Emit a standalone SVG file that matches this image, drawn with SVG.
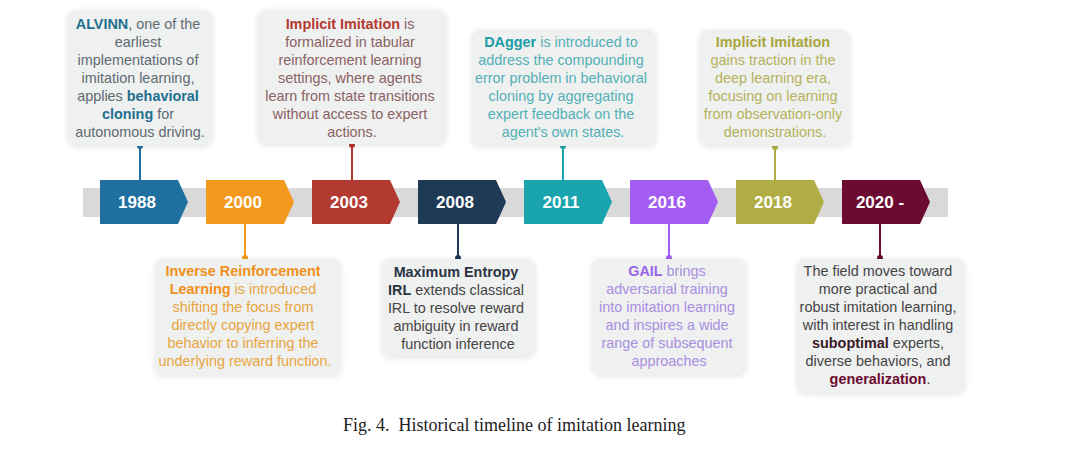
<svg xmlns="http://www.w3.org/2000/svg" width="1080" height="450" viewBox="0 0 1080 450">
<style>
.box{fill:#eff0f0;filter:url(#sh)}
.yr{font-family:"Liberation Sans",Arial,sans-serif;font-size:17px;font-weight:bold;fill:#fff;text-anchor:middle}
.t{font-family:"Liberation Sans",Arial,sans-serif;font-size:14.4px;text-anchor:middle}
.b{font-weight:bold}
.cap{font-family:"Liberation Serif","Times New Roman",serif;font-size:18px;fill:#222;white-space:pre}
</style>
<defs>
<filter id="sh" x="-10%" y="-10%" width="120%" height="125%">
<feGaussianBlur in="SourceAlpha" stdDeviation="3"/>
<feOffset dy="1"/>
<feComponentTransfer><feFuncA type="linear" slope="0.12"/></feComponentTransfer>
<feMerge><feMergeNode/><feMergeNode in="SourceGraphic"/></feMerge>
</filter>
</defs>
<rect width="1080" height="450" fill="#fff"/>
<rect x="83" y="188" width="865" height="29" fill="#d9d9d9"/>

<g id="connectors" stroke-width="2">
<line x1="140" y1="146" x2="140" y2="180" stroke="#1f6f9f"/><circle cx="140" cy="146" r="3" fill="#1f6f9f"/>
<line x1="245" y1="224" x2="245" y2="258" stroke="#f39a1e"/><circle cx="245" cy="258" r="3" fill="#f39a1e"/>
<line x1="352" y1="145" x2="352" y2="180" stroke="#b23a31"/><circle cx="352" cy="145" r="3" fill="#b23a31"/>
<line x1="458" y1="224" x2="458" y2="258" stroke="#1f3a55"/><circle cx="458" cy="258" r="3" fill="#1f3a55"/>
<line x1="563" y1="146" x2="563" y2="180" stroke="#1aa5ae"/><circle cx="563" cy="146" r="3" fill="#1aa5ae"/>
<line x1="669" y1="224" x2="669" y2="258" stroke="#a35df2"/><circle cx="669" cy="258" r="3" fill="#a35df2"/>
<line x1="775" y1="147" x2="775" y2="180" stroke="#b1ad45"/><circle cx="775" cy="147" r="3" fill="#b1ad45"/>
<line x1="880" y1="224" x2="880" y2="258" stroke="#6b0b31"/><circle cx="880" cy="258" r="3" fill="#6b0b31"/>
</g>

<g id="y1988"><path d="M100,180H178L188,202L178,224H100Z" fill="#1f6f9f"/><text class="yr" x="137" y="208">1988</text></g>
<g id="y2000"><path d="M206,180H284L294,202L284,224H206Z" fill="#f39a1e"/><text class="yr" x="243" y="208">2000</text></g>
<g id="y2003"><path d="M312,180H390L400,202L390,224H312Z" fill="#b23a31"/><text class="yr" x="349" y="208">2003</text></g>
<g id="y2008"><path d="M418,180H496L506,202L496,224H418Z" fill="#1f3a55"/><text class="yr" x="455" y="208">2008</text></g>
<g id="y2011"><path d="M524,180H602L612,202L602,224H524Z" fill="#1aa5ae"/><text class="yr" x="561" y="208">2011</text></g>
<g id="y2016"><path d="M630,180H708L718,202L708,224H630Z" fill="#a35df2"/><text class="yr" x="667" y="208">2016</text></g>
<g id="y2018"><path d="M736,180H814L824,202L814,224H736Z" fill="#b1ad45"/><text class="yr" x="773" y="208">2018</text></g>
<g id="y2020"><path d="M842,180H920L930,202L920,224H842Z" fill="#6b0b31"/><text class="yr" x="880" y="208">2020 -</text></g>

<g id="n1988">
<rect class="box" x="68" y="10" width="144" height="136" rx="8"/>
<text class="t" x="140" fill="#5d6b72">
<tspan x="140" y="29"><tspan class="b" fill="#1f6f8f">ALVINN</tspan>, one of the</tspan>
<tspan x="140" y="47">earliest</tspan>
<tspan x="140" y="65">implementations of</tspan>
<tspan x="140" y="83">imitation learning,</tspan>
<tspan x="140" y="101">applies <tspan class="b" fill="#1f6f8f">behavioral</tspan></tspan>
<tspan x="140" y="119"><tspan class="b" fill="#1f6f8f">cloning</tspan> for</tspan>
<tspan x="140" y="137">autonomous driving.</tspan>
</text>
</g>

<g id="n2003">
<rect class="box" x="258" y="10" width="188" height="134" rx="8"/>
<text class="t" fill="#8a6262">
<tspan x="352" y="29"><tspan class="b" fill="#b23a31">Implicit Imitation</tspan> is</tspan>
<tspan x="352" y="47">formalized in tabular</tspan>
<tspan x="352" y="65">reinforcement learning</tspan>
<tspan x="352" y="83">settings, where agents</tspan>
<tspan x="352" y="101">learn from state transitions</tspan>
<tspan x="352" y="119">without access to expert</tspan>
<tspan x="352" y="137">actions.</tspan>
</text>
</g>

<g id="n2011">
<rect class="box" x="472" y="30" width="184" height="116" rx="8"/>
<text class="t" fill="#52b0b6">
<tspan x="563" y="47"><tspan class="b" fill="#1a9ca5">DAgger</tspan> is introduced to</tspan>
<tspan x="563" y="65">address the compounding</tspan>
<tspan x="563" y="83">error problem in behavioral</tspan>
<tspan x="563" y="101">cloning by aggregating</tspan>
<tspan x="563" y="119">expert feedback on the</tspan>
<tspan x="563" y="137">agent's own states.</tspan>
</text>
</g>

<g id="n2018">
<rect class="box" x="700" y="30" width="150" height="116" rx="8"/>
<text class="t" fill="#b5b25a">
<tspan x="775" y="47"><tspan class="b" fill="#a9a53c">Implicit Imitation</tspan></tspan>
<tspan x="775" y="65">gains traction in the</tspan>
<tspan x="775" y="83">deep learning era,</tspan>
<tspan x="775" y="101">focusing on learning</tspan>
<tspan x="775" y="119">from observation-only</tspan>
<tspan x="775" y="137">demonstrations.</tspan>
</text>
</g>

<g id="n2000">
<rect class="box" x="155" y="259" width="186" height="116" rx="8"/>
<text class="t" fill="#e8a53e">
<tspan x="245" y="276"><tspan class="b" fill="#f0901a">Inverse Reinforcement</tspan></tspan>
<tspan x="245" y="294"><tspan class="b" fill="#f0901a">Learning</tspan> is introduced</tspan>
<tspan x="245" y="312">shifting the focus from</tspan>
<tspan x="245" y="330">directly copying expert</tspan>
<tspan x="245" y="348">behavior to inferring the</tspan>
<tspan x="245" y="366">underlying reward function.</tspan>
</text>
</g>

<g id="n2008">
<rect class="box" x="382" y="259" width="153" height="98" rx="8"/>
<text class="t" fill="#444">
<tspan x="458" y="277"><tspan class="b" fill="#2a3442">Maximum Entropy</tspan></tspan>
<tspan x="458" y="295"><tspan class="b" fill="#2a3442">IRL</tspan> extends classical</tspan>
<tspan x="458" y="313">IRL to resolve reward</tspan>
<tspan x="458" y="331">ambiguity in reward</tspan>
<tspan x="458" y="349">function inference</tspan>
</text>
</g>

<g id="n2016">
<rect class="box" x="592" y="259" width="154" height="116" rx="8"/>
<text class="t" fill="#a88ee0">
<tspan x="669" y="276"><tspan class="b" fill="#9a63e8">GAIL</tspan> brings</tspan>
<tspan x="669" y="294">adversarial training</tspan>
<tspan x="669" y="312">into imitation learning</tspan>
<tspan x="669" y="330">and inspires a wide</tspan>
<tspan x="669" y="348">range of subsequent</tspan>
<tspan x="669" y="366">approaches</tspan>
</text>
</g>

<g id="n2020">
<rect class="box" x="797" y="259" width="168" height="134" rx="8"/>
<text class="t" fill="#444">
<tspan x="880" y="276">The field moves toward</tspan>
<tspan x="880" y="294">more practical and</tspan>
<tspan x="880" y="312">robust imitation learning,</tspan>
<tspan x="880" y="330">with interest in handling</tspan>
<tspan x="880" y="348"><tspan class="b" fill="#3a1a25">suboptimal</tspan> experts,</tspan>
<tspan x="880" y="366">diverse behaviors, and</tspan>
<tspan x="880" y="384"><tspan class="b" fill="#6b0b31">generalization</tspan>.</tspan>
</text>
</g>

<text class="cap" x="343" y="431" xml:space="preserve">Fig. 4.  Historical timeline of imitation learning</text>
</svg>
